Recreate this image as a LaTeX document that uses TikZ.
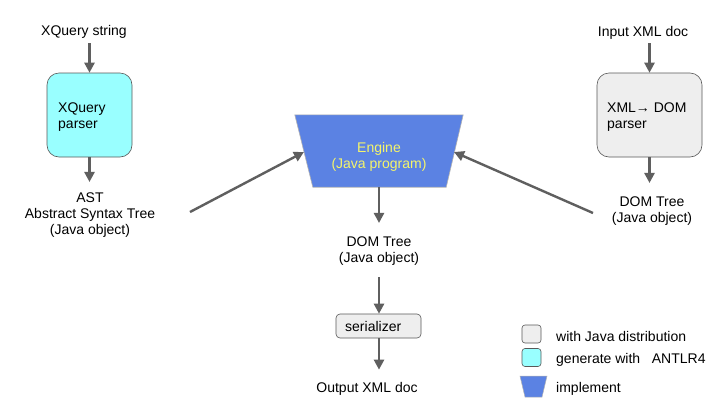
\documentclass[tikz,border=0pt]{standalone}
\usepackage{fontspec}
\setmainfont{Liberation Sans}
\usetikzlibrary{arrows.meta,calc}
\definecolor{arrowgray}{HTML}{5F5F5F}
\definecolor{cyanfill}{HTML}{99FFFF}
\definecolor{grayfill}{HTML}{EEEEEE}
\definecolor{engblue}{HTML}{5B82E3}
\definecolor{engtext}{HTML}{F5F56A}
\begin{document}
\begin{tikzpicture}[x=1pt,y=-1pt,
  txt/.style={font=\fontsize{14}{16}\selectfont, inner sep=1pt, align=center},
  intxt/.style={font=\fontsize{14}{16}\selectfont, inner sep=0pt, align=left, anchor=north west},
  arr/.style={draw=arrowgray, line width=2.4pt, -{Triangle[length=10pt,width=10pt]}},
  box/.style={draw=gray!70!black, line width=0.6pt, rounded corners=12pt, inner sep=0pt},
  legbox/.style={draw=gray!70!black, line width=0.6pt, rounded corners=3pt, minimum width=19pt, minimum height=18pt, inner sep=0pt}]
\useasboundingbox[fill=white] (0,0) rectangle (720,405);

% left column
\node[txt, anchor=base] (xqs) at (84,35) {XQuery string};
\node[box, fill=cyanfill, minimum width=85pt, minimum height=84pt] (xqp) at (89.5,115) {};
\node[intxt] (xqpt) at (58,103) {XQuery\\parser};
\node[txt] (ast) at (90,215.5) {AST\\Abstract Syntax Tree\\(Java object)};
\draw[arr, shorten <=4pt] (xqs.south -| xqp.north) -- (xqp.north);
\draw[arr, shorten >=10pt] (xqp.south) -- (xqp.south |- ast.north);

% engine
\node[minimum width=168pt, minimum height=72pt, inner sep=0pt] (eng) at (379,151) {};
\filldraw[fill=engblue, draw=gray!60, line width=0.6pt] (eng.north west) -- (eng.north east) -- ([xshift=-17pt]eng.south east) -- ([xshift=18pt]eng.south west) -- cycle;
\node[txt, text=engtext, inner sep=0pt] (engtxt) at (379,156.5) {Engine\\(Java program)};

% middle column
\node[txt] (dom1) at (379,251.5) {DOM Tree\\(Java object)};
\draw[arr, shorten >=13pt] (eng.south) -- (dom1.north);
\node[box, fill=grayfill, rounded corners=4pt, minimum width=85pt, minimum height=24pt] (ser) at (378.5,326) {};
\node[txt, anchor=base west, inner sep=0pt] (sert) at (345,331) {serializer};
\draw[arr, shorten <=10pt] (dom1.south) -- (dom1.south |- ser.north);
\node[txt, anchor=base] (out) at (367,392) {Output XML doc};
\draw[arr, shorten >=11pt] (dom1.south |- ser.south) -- (dom1.south |- out.north);

% right column
\node[txt, anchor=base] (ixml) at (643,36) {Input XML doc};
\node[box, fill=grayfill, minimum width=105pt, minimum height=84pt] (xdp) at (649.5,115) {};
\node[intxt] (xdpt) at (607,103) {XML→ DOM\\parser};
\draw[arr, shorten <=3pt] (ixml.south -| xdp.north) -- (xdp.north);
\node[txt] (dom2) at (652,211.5) {DOM Tree\\(Java object)};
\draw[arr, shorten >=13pt] (xdp.south) -- (xdp.south |- dom2.north);

% diagonal inputs to engine
\coordinate (lft) at (190,212);
\coordinate (lin) at (304,152);
\coordinate (rgt) at (593,213);
\coordinate (rin) at (454,152);
\draw[arr] (lft) -- (lin);
\draw[arr] (rgt) -- (rin);

% legend
\node[legbox, fill=grayfill] (lg1) at (531.5,334) {};
\node[legbox, fill=cyanfill] (lg2) at (531.5,357.5) {};
\filldraw[fill=engblue, draw=gray!60, line width=0.5pt] (520,376) -- (547,376) -- (542,397) -- (525,397) -- cycle;
\node[txt, anchor=base west] (l1) at (555,341) {with Java distribution};
\node[txt, anchor=base west] (l2) at (555,363) {generate with\ \ \ ANTLR4};
\node[txt, anchor=base west] (l3) at (555,392) {implement};
\end{tikzpicture}
\end{document}
